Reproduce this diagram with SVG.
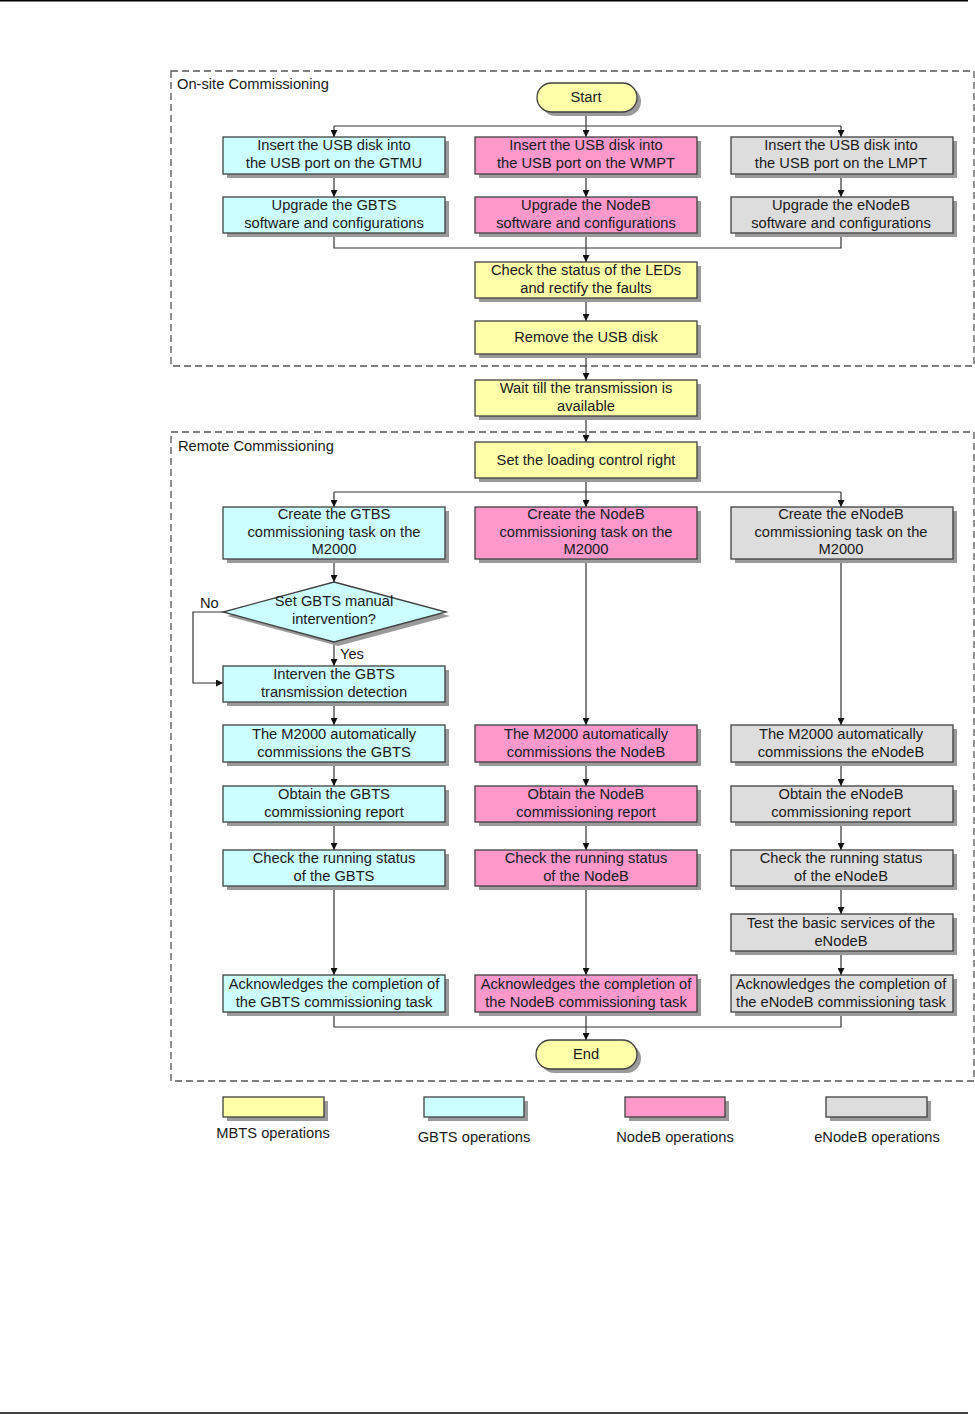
<svg xmlns="http://www.w3.org/2000/svg" width="975" height="1414" viewBox="0 0 975 1414">
<style>
text{font-family:"Liberation Sans",Arial,sans-serif;font-size:14.7px;fill:#1a1a1a;text-anchor:middle}
.lbl{text-anchor:start}
.box{stroke:#404040;stroke-width:1.3}
.sh{fill:#9a9a9a}
.y{fill:#FFFFAA}
.c{fill:#CCFFFF}
.p{fill:#FF99CC}
.g{fill:#DDDDDD}
.grp{fill:none;stroke:#555;stroke-width:1.3;stroke-dasharray:7,4}
.ln{fill:none;stroke:#333;stroke-width:1.2}
.ar{fill:none;stroke:#333;stroke-width:1.2;marker-end:url(#ah)}
</style>
<defs>
<marker id="ah" viewBox="0 0 10 10" refX="10" refY="5" markerWidth="7" markerHeight="7" markerUnits="userSpaceOnUse" orient="auto">
<path d="M0,0 L10,5 L0,10 z" fill="#111"/>
</marker>
</defs>
<rect width="975" height="1414" fill="#fff"/>
<line x1="0" y1="0.8" x2="968" y2="0.8" stroke="#000" stroke-width="1.6"/>
<line x1="0" y1="1413" x2="968" y2="1413" stroke="#000" stroke-width="1.6"/>

<g id="onsite">
<rect class="grp" x="171" y="71" width="803" height="295"/>
<text class="lbl" x="177" y="89">On-site Commissioning</text>
</g>
<g id="remote">
<rect class="grp" x="171" y="432" width="803" height="649"/>
<text class="lbl" x="178" y="451">Remote Commissioning</text>
</g>

<g id="connectors">
<line class="ar" x1="586" y1="112" x2="586" y2="137"/>
<polyline class="ln" points="334,126 841,126"/>
<line class="ar" x1="334" y1="126" x2="334" y2="137"/>
<line class="ar" x1="841" y1="126" x2="841" y2="137"/>
<line class="ar" x1="334" y1="174" x2="334" y2="197"/>
<line class="ar" x1="586" y1="174" x2="586" y2="197"/>
<line class="ar" x1="841" y1="174" x2="841" y2="197"/>
<polyline class="ln" points="334,233 334,248 841,248 841,233"/>
<line class="ar" x1="586" y1="233" x2="586" y2="262"/>
<line class="ar" x1="586" y1="298" x2="586" y2="321"/>
<line class="ar" x1="586" y1="354" x2="586" y2="380"/>
<line class="ar" x1="586" y1="416" x2="586" y2="442"/>
<line class="ar" x1="586" y1="478" x2="586" y2="507"/>
<polyline class="ln" points="334,492 841,492"/>
<line class="ar" x1="334" y1="492" x2="334" y2="507"/>
<line class="ar" x1="841" y1="492" x2="841" y2="507"/>
<line class="ar" x1="334" y1="559" x2="334" y2="582"/>
<line class="ar" x1="334" y1="642" x2="334" y2="666"/>
<polyline class="ar" points="223,612 193,612 193,683 223,683"/>
<line class="ar" x1="334" y1="702" x2="334" y2="725"/>
<line class="ar" x1="586" y1="559" x2="586" y2="725"/>
<line class="ar" x1="841" y1="559" x2="841" y2="725"/>
<line class="ar" x1="334" y1="762" x2="334" y2="786"/>
<line class="ar" x1="586" y1="762" x2="586" y2="786"/>
<line class="ar" x1="841" y1="762" x2="841" y2="786"/>
<line class="ar" x1="334" y1="822" x2="334" y2="850"/>
<line class="ar" x1="586" y1="822" x2="586" y2="850"/>
<line class="ar" x1="841" y1="822" x2="841" y2="850"/>
<line class="ar" x1="334" y1="886" x2="334" y2="975"/>
<line class="ar" x1="586" y1="886" x2="586" y2="975"/>
<line class="ar" x1="841" y1="886" x2="841" y2="914"/>
<line class="ar" x1="841" y1="951" x2="841" y2="975"/>
<polyline class="ln" points="334,1012 334,1027 841,1027 841,1012"/>
<line class="ar" x1="586" y1="1012" x2="586" y2="1040"/>
<text class="lbl" x="200" y="608">No</text>
<text class="lbl" x="340" y="659">Yes</text>
</g>

<g id="start">
<rect class="sh" x="541" y="87" width="100" height="29" rx="14.5"/>
<rect class="box y" x="537" y="83" width="100" height="29" rx="14.5"/>
<text x="586" y="102">Start</text>
</g>

<g id="usb-gtmu">
<rect class="sh" x="227" y="141" width="222" height="37"/>
<rect class="box c" x="223" y="137" width="222" height="37"/>
<text x="334" y="150">Insert the USB disk into</text>
<text x="334" y="168">the USB port on the GTMU</text>
</g>
<g id="usb-wmpt">
<rect class="sh" x="479" y="141" width="222" height="37"/>
<rect class="box p" x="475" y="137" width="222" height="37"/>
<text x="586" y="150">Insert the USB disk into</text>
<text x="586" y="168">the USB port on the WMPT</text>
</g>
<g id="usb-lmpt">
<rect class="sh" x="735" y="141" width="222" height="37"/>
<rect class="box g" x="731" y="137" width="222" height="37"/>
<text x="841" y="150">Insert the USB disk into</text>
<text x="841" y="168">the USB port on the LMPT</text>
</g>

<g id="upg-gbts">
<rect class="sh" x="227" y="201" width="222" height="36"/>
<rect class="box c" x="223" y="197" width="222" height="36"/>
<text x="334" y="210">Upgrade the GBTS</text>
<text x="334" y="228">software and configurations</text>
</g>
<g id="upg-nodeb">
<rect class="sh" x="479" y="201" width="222" height="36"/>
<rect class="box p" x="475" y="197" width="222" height="36"/>
<text x="586" y="210">Upgrade the NodeB</text>
<text x="586" y="228">software and configurations</text>
</g>
<g id="upg-enodeb">
<rect class="sh" x="735" y="201" width="222" height="36"/>
<rect class="box g" x="731" y="197" width="222" height="36"/>
<text x="841" y="210">Upgrade the eNodeB</text>
<text x="841" y="228">software and configurations</text>
</g>

<g id="check-leds">
<rect class="sh" x="479" y="266" width="222" height="36"/>
<rect class="box y" x="475" y="262" width="222" height="36"/>
<text x="586" y="275">Check the status of the LEDs</text>
<text x="586" y="293">and rectify the faults</text>
</g>
<g id="remove-usb">
<rect class="sh" x="479" y="325" width="222" height="33"/>
<rect class="box y" x="475" y="321" width="222" height="33"/>
<text x="586" y="342">Remove the USB disk</text>
</g>
<g id="wait">
<rect class="sh" x="479" y="384" width="222" height="36"/>
<rect class="box y" x="475" y="380" width="222" height="36"/>
<text x="586" y="393">Wait till the transmission is</text>
<text x="586" y="411">available</text>
</g>
<g id="loading">
<rect class="sh" x="479" y="446" width="222" height="36"/>
<rect class="box y" x="475" y="442" width="222" height="36"/>
<text x="586" y="465">Set the loading control right</text>
</g>

<g id="create-gbts">
<rect class="sh" x="227" y="511" width="222" height="52"/>
<rect class="box c" x="223" y="507" width="222" height="52"/>
<text x="334" y="519">Create the GTBS</text>
<text x="334" y="537">commissioning task on the</text>
<text x="334" y="554">M2000</text>
</g>
<g id="create-nodeb">
<rect class="sh" x="479" y="511" width="222" height="52"/>
<rect class="box p" x="475" y="507" width="222" height="52"/>
<text x="586" y="519">Create the NodeB</text>
<text x="586" y="537">commissioning task on the</text>
<text x="586" y="554">M2000</text>
</g>
<g id="create-enodeb">
<rect class="sh" x="735" y="511" width="222" height="52"/>
<rect class="box g" x="731" y="507" width="222" height="52"/>
<text x="841" y="519">Create the eNodeB</text>
<text x="841" y="537">commissioning task on the</text>
<text x="841" y="554">M2000</text>
</g>

<g id="decision">
<polygon class="sh" points="338,586 450,616 338,646 227,616"/>
<polygon class="box c" points="334,582 446,612 334,642 223,612"/>
<text x="334" y="606">Set GBTS manual</text>
<text x="334" y="624">intervention?</text>
</g>

<g id="interven">
<rect class="sh" x="227" y="670" width="222" height="36"/>
<rect class="box c" x="223" y="666" width="222" height="36"/>
<text x="334" y="679">Interven the GBTS</text>
<text x="334" y="697">transmission detection</text>
</g>

<g id="auto-gbts">
<rect class="sh" x="227" y="729" width="222" height="37"/>
<rect class="box c" x="223" y="725" width="222" height="37"/>
<text x="334" y="739">The M2000 automatically</text>
<text x="334" y="757">commissions the GBTS</text>
</g>
<g id="auto-nodeb">
<rect class="sh" x="479" y="729" width="222" height="37"/>
<rect class="box p" x="475" y="725" width="222" height="37"/>
<text x="586" y="739">The M2000 automatically</text>
<text x="586" y="757">commissions the NodeB</text>
</g>
<g id="auto-enodeb">
<rect class="sh" x="735" y="729" width="222" height="37"/>
<rect class="box g" x="731" y="725" width="222" height="37"/>
<text x="841" y="739">The M2000 automatically</text>
<text x="841" y="757">commissions the eNodeB</text>
</g>

<g id="report-gbts">
<rect class="sh" x="227" y="790" width="222" height="36"/>
<rect class="box c" x="223" y="786" width="222" height="36"/>
<text x="334" y="799">Obtain the GBTS</text>
<text x="334" y="817">commissioning report</text>
</g>
<g id="report-nodeb">
<rect class="sh" x="479" y="790" width="222" height="36"/>
<rect class="box p" x="475" y="786" width="222" height="36"/>
<text x="586" y="799">Obtain the NodeB</text>
<text x="586" y="817">commissioning report</text>
</g>
<g id="report-enodeb">
<rect class="sh" x="735" y="790" width="222" height="36"/>
<rect class="box g" x="731" y="786" width="222" height="36"/>
<text x="841" y="799">Obtain the eNodeB</text>
<text x="841" y="817">commissioning report</text>
</g>

<g id="status-gbts">
<rect class="sh" x="227" y="854" width="222" height="36"/>
<rect class="box c" x="223" y="850" width="222" height="36"/>
<text x="334" y="863">Check the running status</text>
<text x="334" y="881">of the GBTS</text>
</g>
<g id="status-nodeb">
<rect class="sh" x="479" y="854" width="222" height="36"/>
<rect class="box p" x="475" y="850" width="222" height="36"/>
<text x="586" y="863">Check the running status</text>
<text x="586" y="881">of the NodeB</text>
</g>
<g id="status-enodeb">
<rect class="sh" x="735" y="854" width="222" height="36"/>
<rect class="box g" x="731" y="850" width="222" height="36"/>
<text x="841" y="863">Check the running status</text>
<text x="841" y="881">of the eNodeB</text>
</g>

<g id="test-enodeb">
<rect class="sh" x="735" y="918" width="222" height="37"/>
<rect class="box g" x="731" y="914" width="222" height="37"/>
<text x="841" y="928">Test the basic services of the</text>
<text x="841" y="946">eNodeB</text>
</g>

<g id="ack-gbts">
<rect class="sh" x="227" y="979" width="222" height="37"/>
<rect class="box c" x="223" y="975" width="222" height="37"/>
<text x="334" y="989">Acknowledges the completion of</text>
<text x="334" y="1007">the GBTS commissioning task</text>
</g>
<g id="ack-nodeb">
<rect class="sh" x="479" y="979" width="222" height="37"/>
<rect class="box p" x="475" y="975" width="222" height="37"/>
<text x="586" y="989">Acknowledges the completion of</text>
<text x="586" y="1007">the NodeB commissioning task</text>
</g>
<g id="ack-enodeb">
<rect class="sh" x="735" y="979" width="222" height="37"/>
<rect class="box g" x="731" y="975" width="222" height="37"/>
<text x="841" y="989">Acknowledges the completion of</text>
<text x="841" y="1007">the eNodeB commissioning task</text>
</g>

<g id="end">
<rect class="sh" x="540" y="1044" width="101" height="29" rx="14.5"/>
<rect class="box y" x="536" y="1040" width="101" height="29" rx="14.5"/>
<text x="586" y="1059">End</text>
</g>

<g id="legend">
<rect class="sh" x="227" y="1101" width="101" height="20"/>
<rect class="box y" x="223" y="1097" width="101" height="20"/>
<text x="273" y="1138">MBTS operations</text>
<rect class="sh" x="428" y="1101" width="100" height="20"/>
<rect class="box c" x="424" y="1097" width="100" height="20"/>
<text x="474" y="1142">GBTS operations</text>
<rect class="sh" x="629" y="1101" width="100" height="20"/>
<rect class="box p" x="625" y="1097" width="100" height="20"/>
<text x="675" y="1142">NodeB operations</text>
<rect class="sh" x="830" y="1101" width="101" height="20"/>
<rect class="box g" x="826" y="1097" width="101" height="20"/>
<text x="877" y="1142">eNodeB operations</text>
</g>
</svg>
